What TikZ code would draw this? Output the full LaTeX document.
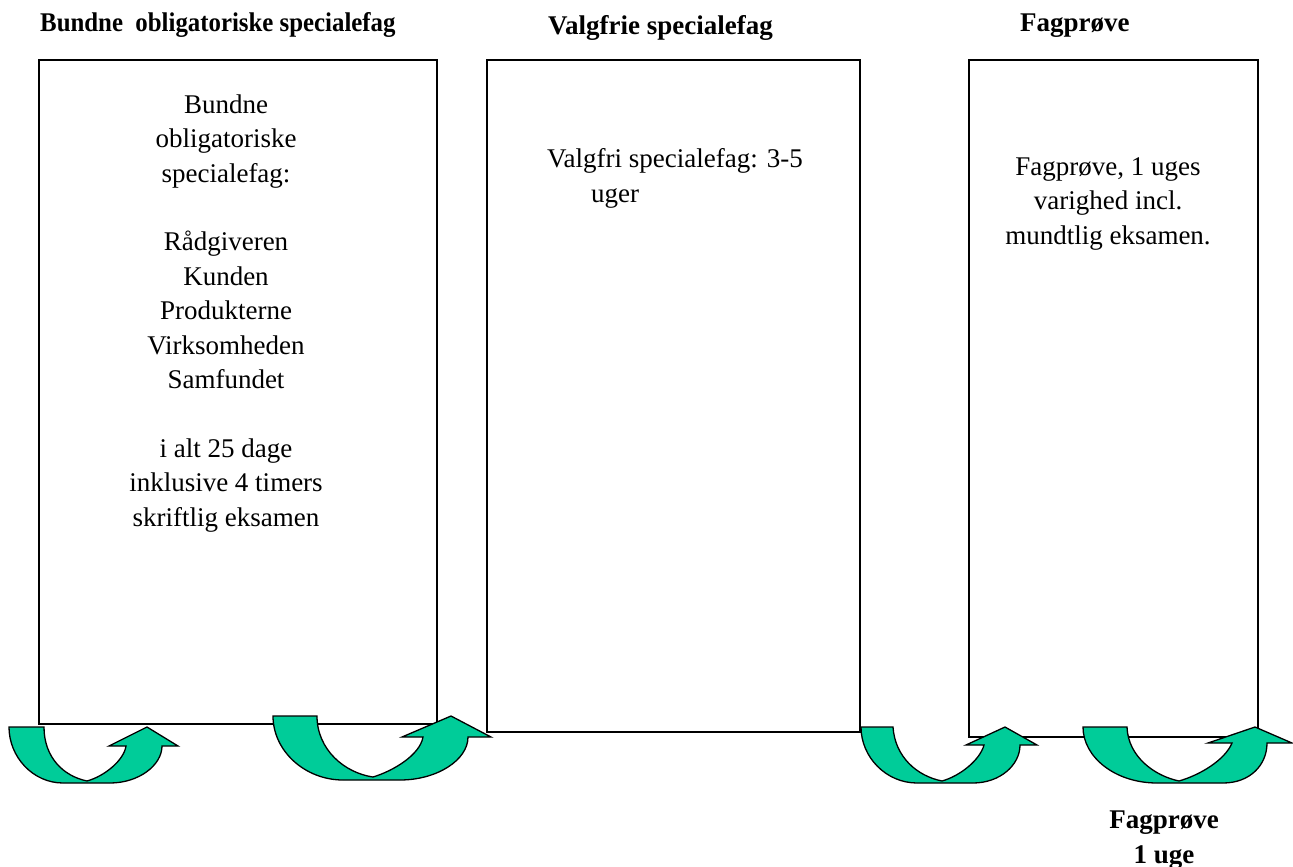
\documentclass[tikz,border=0pt]{standalone}
\usepackage{fontspec}
\usepackage{graphicx}
\setmainfont{Liberation Serif}
\definecolor{arrowgreen}{RGB}{0,204,153}
\tikzset{
  box/.style={draw=black, line width=1.2pt},
  body/.style={font=\fontsize{27}{34.4}\selectfont, align=center, inner sep=0pt, anchor=base},
  head/.style={font=\bfseries\fontsize{27}{34.4}\selectfont, inner sep=0pt},
  uturn/.style={fill=arrowgreen, draw=black, line width=1.3pt, line join=miter},
}
\begin{document}
\begin{tikzpicture}[x=1pt, y=-1pt]
\useasboundingbox (0,0) rectangle (1293,867);
% headers
\node[head, anchor=base west] (h1) at (40,32) {\scalebox{0.92}[1]{Bundne\ \ obligatoriske specialefag}};
\node[head, anchor=base west] (h2) at (548,35) {Valgfrie specialefag};
\node[head, anchor=base west] (h3) at (1020,32) {Fagprøve};
% boxes
\draw[box] (39,60) rectangle (437,724);
\draw[box] (487,60) rectangle (860,732);
\draw[box] (969,60) rectangle (1258,737);
% box texts (base anchor = baseline of the last line)
\node[body] (t1) at (226,526) {Bundne\\obligatoriske\\specialefag:\\[34.4pt]Rådgiveren\\Kunden\\Produkterne\\Virksomheden\\Samfundet\\[34.4pt]i alt 25 dage\\inklusive 4 timers\\skriftlig eksamen};
\node[body] (t2) at (675,202) {Valgfri specialefag: 3-5\\uger\hspace*{120pt}};
\node[body] (t3) at (1108,244) {Fagprøve, 1 uges\\varighed incl.\\mundtlig eksamen.};
% bottom label
\node[head, align=center, anchor=base] (fp) at (1164,863) {Fagprøve\\1 uge};
% curved arrows
\draw[uturn] (9,727) -- (44,727)
  .. controls (44,757) and (63,776) .. (87,781)
  .. controls (105,776) and (124,760) .. (126,746)
  -- (109,746) -- (147,727) -- (178,746) -- (162,746)
  .. controls (162,765) and (139,783) .. (110,783)
  -- (63,783)
  .. controls (33,783) and (9,757) .. (9,727) -- cycle;
\draw[uturn] (273,716) -- (317,716)
  .. controls (317,750) and (345,773) .. (373,777)
  .. controls (393,771) and (420,755) .. (423,737)
  -- (402,737) -- (451,716) -- (491,737) -- (468,737)
  .. controls (468,760) and (437,780) .. (400,780)
  -- (343,780)
  .. controls (305,780) and (273,751) .. (273,716) -- cycle;
\draw[uturn] (861,727) -- (893,727)
  .. controls (895,757) and (917,776) .. (942,781)
  .. controls (960,776) and (980,760) .. (984,745)
  -- (966,745) -- (1005,727) -- (1037,745) -- (1020,745)
  .. controls (1020,765) and (1000,783) .. (973,783)
  -- (917,783)
  .. controls (886,783) and (861,757) .. (861,727) -- cycle;
\draw[uturn] (1083,727) -- (1127,727)
  .. controls (1128,757) and (1155,776) .. (1179,781)
  .. controls (1200,775) and (1225,760) .. (1232,743)
  -- (1208,743) -- (1255,727) -- (1292,743) -- (1267,743)
  .. controls (1267,765) and (1250,783) .. (1223,783)
  -- (1157,783)
  .. controls (1115,783) and (1083,757) .. (1083,727) -- cycle;
\end{tikzpicture}
\end{document}
